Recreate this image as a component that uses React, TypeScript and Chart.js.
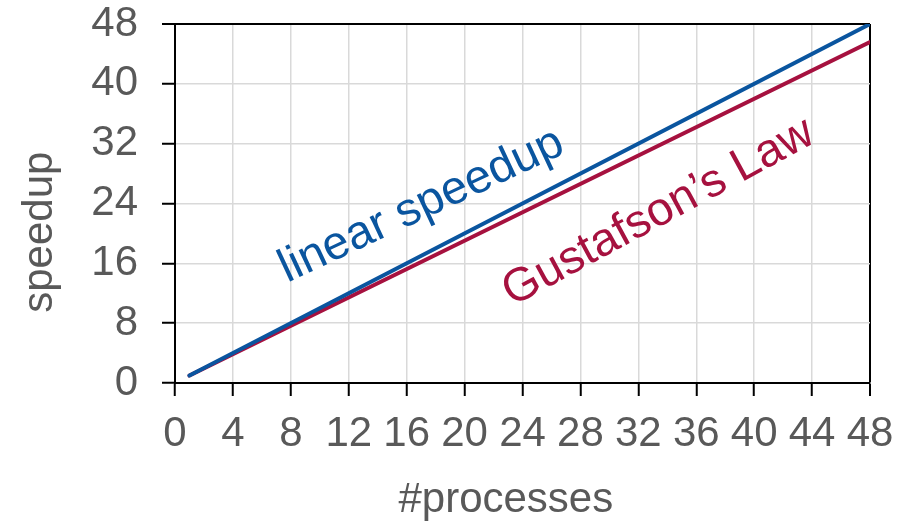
import React, { useEffect, useRef } from "react";
import { Chart, registerables } from "chart.js";

Chart.register(...registerables);

const processes = [1, 48];
const linearSpeedup = [1, 48];
const gustafsonSpeedup = [1, 45.6];

const xTicks = [0, 4, 8, 12, 16, 20, 24, 28, 32, 36, 40, 44, 48];
const yTicks = [0, 8, 16, 24, 32, 40, 48];

const xTitle = "#processes";
const yTitle = "speedup";

const annotations = [
  { text: "linear speedup", x: 7.75, y: 13.4, angle: -25, color: "#0a559f" },
  { text: "Gustafson\u2019s Law", x: 23.3, y: 10.2, angle: -28.5, color: "#a6113f" },
];

const BLUE = "#0a559f";
const RED = "#a6113f";
const FONT = "'Liberation Sans', Arial, sans-serif";
const TEXT_GRAY = "#595959";

const annotationPlugin = {
  id: "lineLabels",
  afterDatasetsDraw(chart: any) {
    const { ctx, scales } = chart;
    annotations.forEach((a) => {
      const px = scales.x.getPixelForValue(a.x);
      const py = scales.y.getPixelForValue(a.y);
      ctx.save();
      ctx.translate(px, py);
      ctx.rotate((a.angle * Math.PI) / 180);
      ctx.font = `47px ${FONT}`;
      ctx.fillStyle = a.color;
      ctx.textAlign = "left";
      ctx.textBaseline = "alphabetic";
      ctx.fillText(a.text, 0, 0);
      ctx.restore();
    });
  },
};

const axisTitlePlugin = {
  id: "axisTitles",
  afterDraw(chart: any) {
    const { ctx, chartArea } = chart;
    ctx.save();
    ctx.font = `42px ${FONT}`;
    ctx.fillStyle = TEXT_GRAY;
    ctx.textAlign = "center";
    ctx.textBaseline = "middle";
    // x title
    ctx.fillText(xTitle, chartArea.left + (chartArea.right - chartArea.left) * 0.476, chart.height - 25);
    // y title
    ctx.translate(40, chartArea.top + (chartArea.bottom - chartArea.top) * 0.58);
    ctx.rotate(-Math.PI / 2);
    ctx.fillText(yTitle, 0, 0);
    ctx.restore();
  },
};

export default function App() {
  const ref = useRef<HTMLCanvasElement>(null);

  useEffect(() => {
    document.body.style.margin = "0";
    const canvas = ref.current;
    if (!canvas) return;
    const gridColor = (c: any) => (c.tick && c.tick.value === 48 ? "#000000" : "#d9d9d9");
    const gridWidth = (c: any) => (c.tick && c.tick.value === 48 ? 2 : 1.5);
    const chart = new Chart(canvas, {
      type: "line",
      data: {
        datasets: [
          {
            label: "linear speedup",
            data: processes.map((p, i) => ({ x: p, y: linearSpeedup[i] })),
            borderColor: BLUE,
            borderWidth: 4,
            pointRadius: 0,
            borderCapStyle: "round",
            order: 0,
          },
          {
            label: "Gustafson's Law",
            data: processes.map((p, i) => ({ x: p, y: gustafsonSpeedup[i] })),
            borderColor: RED,
            borderWidth: 4,
            pointRadius: 0,
            borderCapStyle: "round",
            order: 1,
          },
        ],
      },
      options: {
        animation: false,
        responsive: false,
        layout: { padding: { left: 0, right: 37, top: 24, bottom: 0 } },
        plugins: {
          legend: { display: false },
          tooltip: { enabled: false },
        },
        scales: {
          x: {
            type: "linear",
            min: 0,
            max: 48,
            afterBuildTicks: (axis: any) => {
              axis.ticks = xTicks.map((v) => ({ value: v }));
            },
            afterFit: (axis: any) => {
              axis.height = 142;
              axis.paddingTop = 0;
              axis.paddingBottom = 0;
            },
            ticks: {
              autoSkip: false,
              maxRotation: 0,
              padding: 13,
              color: TEXT_GRAY,
              font: { family: FONT, size: 42 },
            },
            grid: {
              color: gridColor,
              lineWidth: gridWidth,
              tickColor: "#000000",
              tickLength: 13,
              tickWidth: 2,
            },
            border: { display: true, color: "#000000", width: 2 },
            title: { display: false },
          },
          y: {
            type: "linear",
            min: 0,
            max: 48,
            afterBuildTicks: (axis: any) => {
              axis.ticks = yTicks.map((v) => ({ value: v }));
            },
            afterFit: (axis: any) => {
              axis.width = 175;
              axis.paddingTop = 0;
              axis.paddingBottom = 0;
            },
            ticks: {
              autoSkip: false,
              padding: 24,
              color: TEXT_GRAY,
              font: { family: FONT, size: 42 },
            },
            grid: {
              color: gridColor,
              lineWidth: gridWidth,
              tickColor: "#000000",
              tickLength: 13,
              tickWidth: 2,
            },
            border: { display: true, color: "#000000", width: 2 },
            title: { display: false },
          },
        },
      },
      plugins: [annotationPlugin, axisTitlePlugin],
    } as any);
    return () => chart.destroy();
  }, []);

  return (
    <div style={{ width: 907, height: 525 }}>
      <canvas ref={ref} width={907} height={525} />
    </div>
  );
}
